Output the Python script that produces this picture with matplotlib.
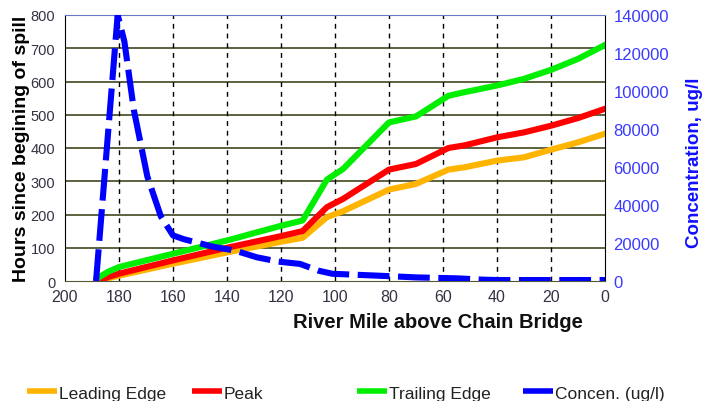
import matplotlib
matplotlib.use("Agg")
import matplotlib.pyplot as plt
from matplotlib.lines import Line2D

plt.rcParams['font.family'] = ['Liberation Sans', 'DejaVu Sans']

# ---- data ----
edge_miles = [188, 184, 180, 160, 140, 120, 112, 103, 97, 80, 70, 58, 52, 40, 30, 20, 10, 0]
leading_edge = [0, 8, 16, 52, 86, 118, 130, 192, 210, 275, 292, 335, 342, 362, 372, 395, 417, 443]
peak = [0, 12, 22, 62, 100, 135, 150, 222, 247, 335, 352, 400, 408, 432, 447, 467, 490, 518]
trailing_edge = [8, 28, 42, 82, 122, 166, 182, 305, 337, 477, 495, 557, 568, 588, 608, 635, 668, 710]

conc_miles = [188.5, 180.5, 178, 174.5, 169.5, 164.5, 160, 156, 145, 137, 129, 121, 113, 106, 101, 84, 70, 55, 45, 40, 0]
concentration = [0, 140000, 126000, 90000, 55000, 34000, 24000, 22000, 18000, 16000, 12500, 10200, 9000,
                 5400, 3800, 2800, 1900, 1400, 700, 500, 500]

x_ticks = [200, 180, 160, 140, 120, 100, 80, 60, 40, 20, 0]
y_ticks = [0, 100, 200, 300, 400, 500, 600, 700, 800]
y2_ticks = [0, 20000, 40000, 60000, 80000, 100000, 120000, 140000]

labels = ["Leading Edge", "Peak", "Trailing Edge", "Concen. (ug/l)"]
colors = ["#FFB400", "#FF0000", "#00EE00", "#0000FF"]

# ---- figure ----
fig = plt.figure(figsize=(7.15, 4.02), dpi=100)
ax = fig.add_axes([65/715, 1-282/402, 540/715, 266/402])
ax2 = ax.twinx()

lw = 4.4
ax.plot(edge_miles, leading_edge, color=colors[0], lw=lw, solid_joinstyle='round', zorder=3)
ax.plot(edge_miles, peak, color=colors[1], lw=lw, solid_joinstyle='round', zorder=4)
ax.plot(edge_miles, trailing_edge, color=colors[2], lw=lw, solid_joinstyle='round', zorder=5)
ax2.plot(conc_miles, concentration, color=colors[3], lw=lw, linestyle=(0, (5.2, 1.4)),
         dash_capstyle='butt', zorder=6)

ax.set_xlim(200, 0)
ax.set_ylim(0, 800)
ax2.set_ylim(0, 140000)

ax.set_xticks(x_ticks)
ax.set_yticks(y_ticks)
ax2.set_yticks(y2_ticks)
ax2.set_yticklabels([str(v) for v in y2_ticks])

# gridlines
for v in y_ticks[1:-1]:
    ax.axhline(v, color='#4f5630', lw=1.3, zorder=1)
for v in x_ticks[1:-1]:
    ax.axvline(v, color='black', lw=1.0, linestyle=(0, (3.5, 3.5)), zorder=1)

ax.tick_params(axis='y', length=0, pad=7, labelsize=10.5, labelcolor='#333344')
ax.tick_params(axis='x', length=0, pad=6, labelsize=11.5, labelcolor='#333344')
ax2.tick_params(axis='y', length=0, pad=6, labelsize=12, labelcolor='#3a3aff')

for sp in ['left', 'right']:
    ax2.spines[sp].set_color('black')
ax2.spines['top'].set_color('#6a78c8')
ax2.spines['bottom'].set_color('#55583a')
for sp in ax.spines.values():
    sp.set_visible(False)

ax.set_ylabel("Hours since begining of spill", fontsize=14, fontweight='bold', color='black')
ax.yaxis.set_label_coords(-0.065, 0.5)
ax2.set_ylabel("Concentration, ug/l", fontsize=13.5, fontweight='bold', color='#1010ff')
ax2.yaxis.set_label_coords(1.15, 0.45)

fig.text(438/715, 1-323/402, "River Mile above Chain Bridge", fontsize=14.5, fontweight='bold',
         color='#111111', ha='center', va='center')

# legend (four separate single-entry legends, evenly spaced)
xs = [27, 192, 357, 523]
for lab, col, x in zip(labels, colors, xs):
    h = Line2D([], [], color=col, lw=4.0, solid_capstyle='butt')
    leg = fig.legend([h], [lab], loc='center left', bbox_to_anchor=(x/715, 1-394/402),
                     frameon=False, fontsize=12.5, handlelength=1.75, handletextpad=0.1,
                     borderpad=0, borderaxespad=0)
    for t in leg.get_texts():
        t.set_color('#222222')

fig.savefig("out.png", dpi=100)
